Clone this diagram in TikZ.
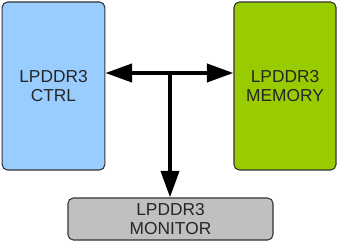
\documentclass[tikz,border=0pt]{standalone}
\usepackage{fontspec}
\setmainfont{Liberation Sans}
\usepackage{xcolor}
\usetikzlibrary{arrows.meta, positioning, calc}
\definecolor{ctrlblue}{HTML}{99CCFF}
\definecolor{memgreen}{HTML}{99CC00}
\definecolor{mongray}{HTML}{C0C0C0}

\begin{document}
\begin{tikzpicture}[
  x=0.75pt, y=-0.75pt,
  blk/.style={rectangle, draw=black!80, line width=0.8pt, rounded corners=4pt, inner sep=0pt, align=center, font=\fontsize{13}{14.5}\selectfont, text=black!85},
  bus/.style={line width=3pt},
  >={Triangle[length=20pt, width=13.5pt]}
]
  \useasboundingbox (0,0) rectangle (338,242);

  % Blocks
  \node[blk, fill=ctrlblue, minimum width=77pt, minimum height=126pt] (ctrl) at (53.5, 86) {LPDDR3\\CTRL};
  \node[blk, fill=memgreen, minimum width=76.5pt, minimum height=126pt] (mem) at (285, 86) {LPDDR3\\MEMORY};
  \node[blk, fill=mongray, minimum width=153.75pt, minimum height=31.5pt] (mon) at (170.5, 219) {LPDDR3\\MONITOR};

  % Bus junction
  \coordinate (j) at (170, 73);

  % Connections
  \draw[bus, <->] (ctrl.east |- j) -- (mem.west |- j);
  \draw[bus, ->] (j) -- (mon.north -| j);
\end{tikzpicture}
\end{document}
